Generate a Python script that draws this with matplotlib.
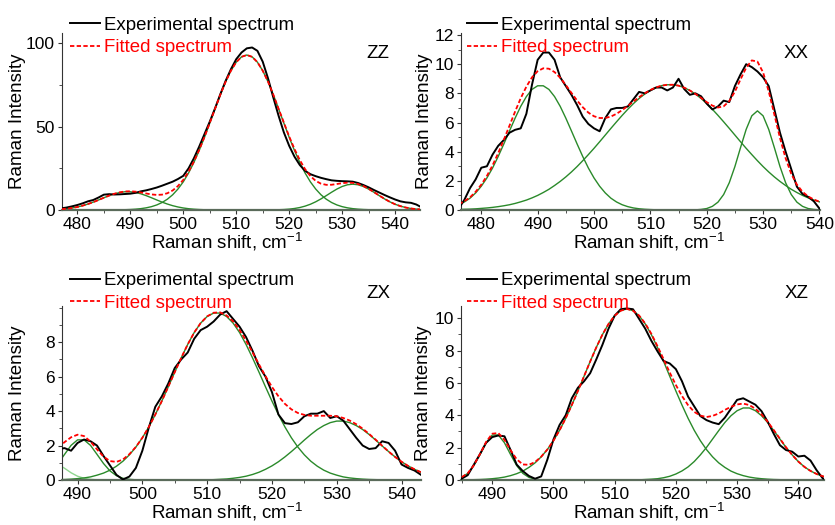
import numpy as np
import matplotlib
matplotlib.use("Agg")
import matplotlib.pyplot as plt
from matplotlib.lines import Line2D
from matplotlib.ticker import MultipleLocator

plt.rcParams['font.family'] = ['Liberation Sans', 'DejaVu Sans']
plt.rcParams['mathtext.default'] = 'regular'

W, H = 835, 525

# ---- ZZ (top left), Raman shift 477..545 step 1
zz_x0 = 477
zz_exp = [1.0, 1.5, 2.2, 3.0, 4.0, 5.2, 6.0, 7.5, 9.2, 9.5,
          9.3, 9.4, 9.6, 9.8, 10.3, 11.2, 11.8, 12.6, 13.5, 14.6,
          15.8, 17.0, 18.6, 20.5, 25.0, 31.0, 38.0, 45.5, 53.0, 61.0,
          69.5, 77.5, 84.5, 90.5, 94.5, 97.0, 97.5, 95.5, 89.0, 79.0,
          67.5, 56.5, 46.5, 38.5, 32.0, 27.0, 23.5, 21.5, 20.3, 19.3,
          18.5, 17.8, 17.5, 17.3, 17.2, 17.0, 16.2, 15.0, 13.6, 12.0,
          10.5, 9.0, 7.6, 6.3, 5.2, 4.6, 4.3, 3.3, 1.6]
zz_fit = [0.5, 0.8, 1.2, 1.8, 2.6, 3.6, 4.7, 6.0, 7.36, 8.64,
          9.77, 10.6, 11.13, 11.25, 11.0, 10.53, 9.91, 9.35, 9.05, 9.22,
          10.06, 11.73, 14.4, 18.1, 23.0, 29.0, 36.0, 43.8, 52.2, 60.75,
          69.2, 77.0, 83.6, 88.7, 91.9, 93.0, 91.9, 88.7, 83.6, 77.0,
          69.2, 60.7, 52.4, 44.1, 36.6, 30.0, 24.5, 20.35, 17.5, 15.8,
          15.1, 15.15, 15.6, 16.1, 16.4, 16.3, 15.6, 14.4, 12.7, 10.75,
          8.7, 6.7, 4.91, 3.45, 2.32, 1.48, 0.91, 0.53, 0.29]
zz_g1 = (477, [0.48, 0.78, 1.21, 1.81, 2.59, 3.57, 4.72, 6.01, 7.34, 8.61,
               9.71, 10.5, 10.95, 10.95, 10.5, 9.71, 8.61, 7.34, 6.01, 4.72,
               3.57, 2.59, 1.81, 1.21, 0.78, 0.48, 0.29, 0.16, 0.09, 0.05, 0.02, 0.0])
zz_g2 = (482, [0.01, 0.01, 0.01, 0.02, 0.03, 0.06, 0.10, 0.18, 0.30, 0.50,
               0.82, 1.30, 2.01, 3.04, 4.50, 6.49, 9.14, 12.6, 16.9, 22.2,
               28.5, 35.7, 43.6, 52.1, 60.7, 69.2, 77.0, 83.6, 88.7, 91.9,
               93.0, 91.9, 88.7, 83.6, 77.0, 69.2, 60.7, 52.1, 43.6, 35.7,
               28.5, 22.2, 16.9, 12.6, 9.14, 6.49, 4.50, 3.04, 2.01, 1.30,
               0.82, 0.50, 0.30, 0.18, 0.10, 0.06, 0.03, 0.02, 0.01, 0.01, 0.01, 0.0])
zz_g3 = (515, [0.01, 0.04, 0.08, 0.16, 0.29, 0.53, 0.91, 1.48, 2.32, 3.45,
               4.91, 6.66, 8.62, 10.65, 12.55, 14.11, 15.14, 15.5, 15.14, 14.11,
               12.55, 10.65, 8.62, 6.66, 4.91, 3.45, 2.32, 1.48, 0.91, 0.53, 0.29])

# ---- XX (top right), 476..540
xx_x0 = 476
xx_exp = [0.1, 0.7, 1.5, 2.1, 2.9, 3.0, 3.8, 4.4, 4.8, 5.3,
          5.5, 5.6, 6.6, 8.6, 10.3, 10.8, 10.8, 10.3, 9.1, 8.5,
          7.9, 7.2, 6.4, 5.9, 5.6, 5.4, 6.3, 6.9, 7.0, 7.0,
          7.1, 7.6, 8.1, 8.0, 8.2, 8.4, 8.4, 8.2, 8.4, 9.0,
          8.3, 7.9, 8.0, 7.8, 7.3, 6.9, 7.1, 7.5, 7.4, 8.5,
          9.3, 10.0, 9.8, 9.5, 9.1, 8.5, 6.9, 5.3, 4.0, 2.8,
          1.6, 1.1, 0.9, 0.6, 0.1]
xx_fit = [0.40, 0.60, 0.87, 1.25, 1.74, 2.34, 3.06, 3.90, 4.82, 5.78,
          6.75, 7.67, 8.46, 9.10, 9.52, 9.72, 9.69, 9.46, 9.07, 8.57,
          8.03, 7.51, 7.05, 6.68, 6.43, 6.31, 6.31, 6.41, 6.60, 6.85,
          7.14, 7.44, 7.74, 8.00, 8.23, 8.41, 8.53, 8.59, 8.59, 8.53,
          8.39, 8.20, 7.96, 7.69, 7.40, 7.16, 7.03, 7.11, 7.47, 8.12,
          8.96, 9.76, 10.26, 10.18, 9.44, 8.14, 6.55, 4.94, 3.55, 2.48,
          1.74, 1.25, 0.93, 0.72, 0.57]
xx_g1 = (476, [0.36, 0.55, 0.81, 1.17, 1.63, 2.20, 2.88, 3.67, 4.53, 5.42,
               6.30, 7.11, 7.78, 8.27, 8.52, 8.52, 8.27, 7.78, 7.11, 6.30,
               5.42, 4.53, 3.67, 2.88, 2.20, 1.63, 1.17, 0.81, 0.55, 0.36,
               0.23, 0.14, 0.085, 0.05, 0.03, 0.015, 0.0])
xx_g2 = (476, [0.04, 0.05, 0.06, 0.08, 0.11, 0.14, 0.18, 0.23, 0.29, 0.36,
               0.45, 0.56, 0.68, 0.83, 1.00, 1.20, 1.42, 1.68, 1.96, 2.27,
               2.61, 2.98, 3.38, 3.80, 4.23, 4.68, 5.14, 5.60, 6.05, 6.49,
               6.91, 7.30, 7.65, 7.95, 8.20, 8.39, 8.53, 8.59, 8.59, 8.53,
               8.39, 8.20, 7.95, 7.65, 7.30, 6.91, 6.49, 6.05, 5.60, 5.14,
               4.68, 4.23, 3.80, 3.38, 2.98, 2.61, 2.27, 1.96, 1.68, 1.42,
               1.20, 1.00, 0.83, 0.68, 0.56])
xx_g3 = (517, [0.0, 0.01, 0.04, 0.10, 0.25, 0.54, 1.06, 1.87, 2.98, 4.28,
               5.53, 6.46, 6.8, 6.46, 5.53, 4.28, 2.98, 1.87, 1.06, 0.54,
               0.25, 0.10, 0.04, 0.01])

# ---- ZX (bottom left), 487..543
zx_x0 = 487
zx_exp = [1.8, 1.85, 1.7, 2.15, 2.35, 2.25, 2.0, 1.4, 0.85, 0.3,
          0.03, 0.2, 0.7, 1.7, 3.05, 4.25, 4.85, 5.6, 6.5, 7.0,
          7.4, 8.2, 8.7, 8.9, 9.2, 9.6, 9.8, 9.35, 8.9, 8.3,
          7.5, 6.6, 6.0, 5.1, 3.8, 3.3, 3.25, 3.35, 3.7, 3.85,
          3.85, 4.0, 3.6, 3.7, 3.45, 2.95, 2.45, 2.0, 1.8, 1.85,
          2.25, 2.15, 1.7, 0.9, 0.7, 0.55, 0.3]
zx_fit = [1.88, 2.20, 2.48, 2.63, 2.55, 2.23, 1.78, 1.36, 1.10, 1.05,
          1.19, 1.50, 1.92, 2.45, 3.08, 3.80, 4.58, 5.41, 6.26, 7.09,
          7.87, 8.56, 9.11, 9.50, 9.71, 9.73, 9.55, 9.21, 8.71, 8.09,
          7.41, 6.71, 6.03, 5.40, 4.86, 4.42, 4.10, 3.89, 3.78, 3.73,
          3.73, 3.73, 3.73, 3.70, 3.60, 3.45, 3.24, 2.98, 2.67, 2.34,
          1.99, 1.65, 1.34, 1.06, 0.82, 0.62, 0.45]
zx_g0 = (487, [0.9, 0.68, 0.42, 0.22, 0.10, 0.04, 0.01, 0.0])
zx_g1 = (487, [0.96, 1.49, 2.01, 2.33, 2.33, 2.01, 1.49, 0.96, 0.53, 0.25,
               0.10, 0.04, 0.01, 0.0])
zx_g2 = (487, [0.02, 0.03, 0.05, 0.08, 0.12, 0.18, 0.28, 0.40, 0.57, 0.80,
               1.09, 1.46, 1.91, 2.45, 3.08, 3.80, 4.58, 5.41, 6.26, 7.09,
               7.87, 8.56, 9.11, 9.49, 9.69, 9.69, 9.49, 9.11, 8.56, 7.87,
               7.09, 6.26, 5.41, 4.58, 3.80, 3.08, 2.45, 1.91, 1.46, 1.09,
               0.80, 0.57, 0.40, 0.28, 0.18, 0.12, 0.08, 0.05, 0.03, 0.02,
               0.01, 0.0])
zx_g3 = (510, [0.01, 0.02, 0.04, 0.06, 0.10, 0.15, 0.22, 0.32, 0.45, 0.62,
               0.82, 1.06, 1.34, 1.65, 1.98, 2.32, 2.64, 2.93, 3.16, 3.33,
               3.42, 3.42, 3.33, 3.16, 2.93, 2.64, 2.32, 1.98, 1.65, 1.34,
               1.06, 0.82, 0.62, 0.45])

# ---- XZ (bottom right), 484..545
xz_x0 = 484
xz_exp = [0.02, 0.08, 0.3, 0.95, 1.6, 2.3, 2.65, 2.75, 2.7, 1.85,
          0.95, 0.55, 0.25, 0.08, 0.22, 1.25, 2.5, 3.4, 4.0, 5.05,
          5.7, 6.1, 6.6, 7.45, 8.35, 9.35, 10.15, 10.55, 10.6, 10.55,
          9.95, 9.35, 8.6, 7.95, 7.35, 7.2, 6.85, 6.1, 5.15, 4.55,
          3.95, 3.7, 3.55, 3.45, 3.85, 4.4, 4.95, 5.05, 4.85, 4.65,
          4.25, 3.6, 2.85, 2.15, 1.85, 1.75, 1.45, 1.5, 1.2, 0.6,
          0.1, 0.0]
xz_fit = [0.05, 0.17, 0.42, 0.91, 1.60, 2.35, 2.86, 2.90, 2.48, 1.84,
          1.28, 0.96, 0.94, 1.11, 1.44, 1.88, 2.43, 3.07, 3.81, 4.63,
          5.50, 6.41, 7.32, 8.19, 8.98, 9.64, 10.15, 10.46, 10.57, 10.46,
          10.16, 9.67, 9.03, 8.27, 7.46, 6.64, 5.87, 5.19, 4.62, 4.21,
          3.98, 3.89, 3.96, 4.11, 4.33, 4.52, 4.67, 4.72, 4.63, 4.40,
          4.05, 3.60, 3.08, 2.55, 2.02, 1.55, 1.14, 0.81, 0.56, 0.37,
          0.23, 0.14]
xz_g1 = (484, [0.05, 0.16, 0.41, 0.89, 1.57, 2.30, 2.78, 2.78, 2.30, 1.57,
               0.89, 0.41, 0.16, 0.05, 0.01])
xz_g2 = (484, [0.0, 0.01, 0.01, 0.02, 0.03, 0.05, 0.08, 0.12, 0.18, 0.27,
               0.39, 0.55, 0.78, 1.06, 1.43, 1.88, 2.43, 3.07, 3.81, 4.63,
               5.50, 6.41, 7.32, 8.19, 8.98, 9.64, 10.15, 10.46, 10.57, 10.46,
               10.15, 9.64, 8.98, 8.19, 7.32, 6.41, 5.50, 4.63, 3.81, 3.07,
               2.43, 1.88, 1.43, 1.06, 0.78, 0.55, 0.39, 0.27, 0.18, 0.12,
               0.08, 0.05, 0.03, 0.02, 0.01, 0.01, 0.0])
xz_g3 = (514, [0.01, 0.03, 0.05, 0.08, 0.14, 0.23, 0.37, 0.56, 0.81, 1.14,
               1.55, 2.01, 2.53, 3.05, 3.55, 3.97, 4.28, 4.45, 4.45, 4.28,
               3.97, 3.55, 3.05, 2.53, 2.01, 1.55, 1.14, 0.81, 0.56, 0.37,
               0.23, 0.14])

GREEN = '#2a8a2a'
LIGHT = '#8fd68f'


def grid(x0, vals):
    return np.arange(x0, x0 + len(vals))


def fx(px):
    return px / W


def fy(py):
    return 1 - py / H


def panel(rect, x0, exp, fit, comps, xlim, ylim, yticks, tag, tag_xy,
          ylab_x, xlab_xy, light=None):
    ax = fig.add_axes([fx(rect[0]), fy(rect[3]), (rect[2] - rect[0]) / W,
                       (rect[3] - rect[1]) / H])
    ax.axhline(0, color=GREEN, lw=1.3, zorder=2, clip_on=False)
    if light is not None:
        ax.plot(grid(*light), light[1], color=LIGHT, lw=1.0, zorder=2)
    for c in comps:
        ax.plot(grid(*c), c[1], color=GREEN, lw=1.0, zorder=2)
    ax.plot(grid(x0, exp), exp, color='black', lw=1.4, zorder=3)
    ax.plot(grid(x0, fit), fit, color='red', lw=1.3, dashes=(2.4, 1.3), zorder=4)
    ax.set_xlim(*xlim)
    ax.set_ylim(*ylim)
    ax.set_yticks(yticks)
    ax.xaxis.set_major_locator(MultipleLocator(10))
    ax.xaxis.set_minor_locator(MultipleLocator(5))
    ax.yaxis.set_minor_locator(MultipleLocator((yticks[1] - yticks[0]) / 2))
    for s in ('top', 'right'):
        ax.spines[s].set_visible(False)
    ax.spines['left'].set_color('#333333')
    ax.spines['bottom'].set_color('#5a6b5a')
    ax.spines['bottom'].set_linewidth(1.6)
    ax.tick_params(which='major', direction='out', length=3, width=0.8,
                   labelsize=12.5, pad=2, colors='#333333', labelcolor='black')
    ax.tick_params(which='minor', direction='out', length=2, width=0.6,
                   colors='#333333')
    ax.set_ylabel('Raman Intensity', fontsize=13.5, va='center')
    ax.yaxis.set_label_coords(ylab_x, 0.5)
    ax.set_xlabel('Raman shift, cm$^{-1}$', fontsize=13.5, va='center')
    ax.xaxis.set_label_coords(*xlab_xy)
    fig.text(fx(tag_xy[0]), fy(tag_xy[1]), tag, fontsize=13.5,
             ha='center', va='baseline')
    return ax


def legend(px, py1, py2):
    fig.add_artist(Line2D([fx(px), fx(px + 30)], [fy(py1), fy(py1)],
                          color='black', lw=1.4))
    fig.text(fx(px + 34), fy(py1 + 6.7), 'Experimental spectrum',
             fontsize=13.4, va='baseline')
    fig.add_artist(Line2D([fx(px), fx(px + 30)], [fy(py2), fy(py2)],
                          color='red', lw=1.3, dashes=(2.4, 1.3)))
    fig.text(fx(px + 34), fy(py2 + 6.7), 'Fitted spectrum', color='red',
             fontsize=13.4, va='baseline')


fig = plt.figure(figsize=(W / 100, H / 100), dpi=100)

panel((62, 33, 420, 210), zz_x0, zz_exp, zz_fit, [zz_g1, zz_g2, zz_g3],
      (477.1, 544.7), (0, 106.2), [0, 50, 100], 'ZZ', (378, 57.5),
      -0.123, (0.461, -0.179))
panel((461, 33, 820, 210), xx_x0, xx_exp, xx_fit, [xx_g1, xx_g2, xx_g3],
      (476.4, 540.1), (0, 12.14), [0, 2, 4, 6, 8, 10, 12], 'XX', (796, 57.5),
      -0.103, (0.524, -0.179))
panel((62, 306, 421, 480), zx_x0, zx_exp, zx_fit, [zx_g1, zx_g2, zx_g3],
      (487.6, 543.0), (0, 10.1), [0, 2, 4, 6, 8], 'ZX', (378, 297.5),
      -0.123, (0.461, -0.184), light=zx_g0)
panel((461, 306, 824, 480), xz_x0, xz_exp, xz_fit, [xz_g1, xz_g2, xz_g3],
      (484.9, 544.2), (0, 10.75), [0, 2, 4, 6, 8, 10], 'XZ', (797, 297.5),
      -0.102, (0.518, -0.184))

legend(70, 23.3, 45.7)
legend(467, 23.3, 45.7)
legend(70, 278.7, 301.3)
legend(467, 278.7, 301.3)

fig.savefig('out.png', dpi=100)
